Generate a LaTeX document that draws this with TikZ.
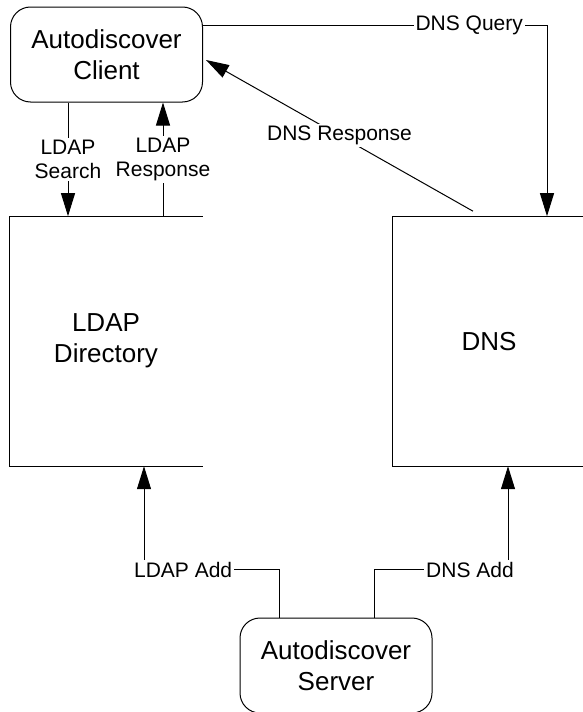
\documentclass[tikz,border=0pt]{standalone}
\usepackage{fontspec}
\setmainfont{Liberation Sans}
\usetikzlibrary{arrows.meta}
\begin{document}
\begin{tikzpicture}[x=1pt,y=-1pt,line width=1pt,
  arr/.style={-{Triangle[length=23pt,width=14pt]}},
  big/.style={font=\fontsize{26}{31}\selectfont,align=center},
  lbl/.style={font=\fontsize{21}{24}\selectfont,align=center,fill=white,inner sep=2pt},
  rbox/.style={draw,rounded corners=20pt,minimum width=192pt,minimum height=95pt,big},
  tall/.style={minimum width=192pt,minimum height=249pt,big}]
\useasboundingbox (0,0) rectangle (583,712);
\clip (0,0) rectangle (583,712);
\node[rbox] (client) at (106.5,54.5) {Autodiscover\\Client};
\node[tall] (ldap) at (106,341.2) {LDAP\\Directory};
\node[tall] (dns) at (489,341.2) {DNS};
\node[rbox] (server) at (336,665.5) {Autodiscover\\Server};
\draw (ldap.north east) -- (ldap.north west) -- (ldap.south west) -- (ldap.south east);
\draw (dns.north east) -- (dns.north west) -- (dns.south west) -- (dns.south east);
% LDAP search / response
\coordinate (cs) at ([xshift=-38.5]client.south);
\coordinate (cr) at ([xshift=56.5]client.south);
\draw[arr] (cs) -- node[lbl]{LDAP\\Search} (cs |- ldap.north);
\draw[arr] (cr |- ldap.north) -- node[lbl]{LDAP\\Response} (cr);
% DNS query
\coordinate (qs) at ([yshift=29.5]client.east);
\coordinate (qe) at ([xshift=58]dns.north);
\draw[arr] (qs) -- node[lbl,pos=0.774]{DNS Query} (qs -| qe) -- (qe);
% DNS response
\coordinate (rs) at ([xshift=-16,yshift=5]dns.north);
\coordinate (re) at ([xshift=3,yshift=-5.5]client.east);
\draw[arr] (rs) -- node[lbl]{DNS Response} (re);
% LDAP add
\coordinate (ls) at ([xshift=-57]server.north);
\coordinate (lm) at ([yshift=48]ls);
\coordinate (la) at ([xshift=38]ldap.south);
\draw[arr] (ls) -- (lm) -- node[lbl,pos=0.71]{LDAP Add} (lm -| la) -- (la);
% DNS add
\coordinate (ds) at ([xshift=38]server.north);
\coordinate (dm) at ([yshift=48]ds);
\coordinate (da) at ([xshift=19]dns.south);
\draw[arr] (ds) -- (dm) -- node[lbl,pos=0.716]{DNS Add} (dm -| da) -- (da);
\end{tikzpicture}
\end{document}
